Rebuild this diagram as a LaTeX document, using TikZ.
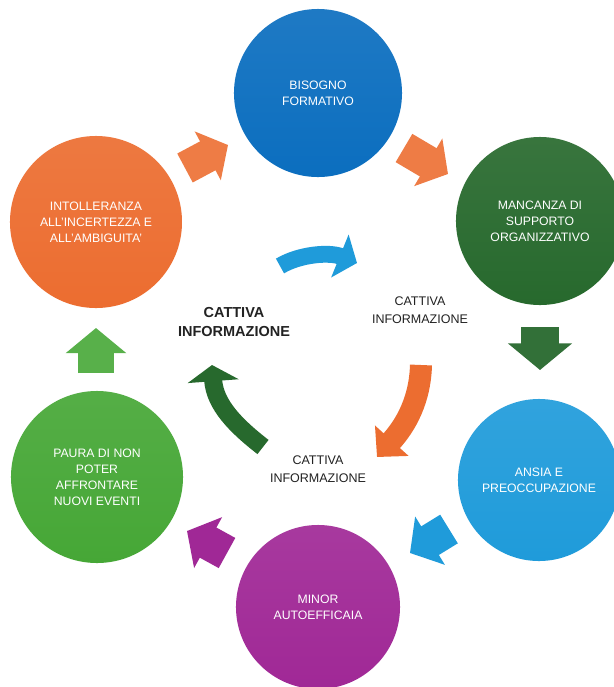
\documentclass[tikz,border=0pt]{standalone}
\usepackage{fontspec}
\setmainfont{Liberation Sans}
\usetikzlibrary{arrows.meta, calc}
\definecolor{cyblue}{HTML}{0B6EBF}
\definecolor{cydkgreen}{HTML}{27692D}
\definecolor{cyltblue}{HTML}{1F9BDA}
\definecolor{cypurple}{HTML}{A02896}
\definecolor{cygreen}{HTML}{46A736}
\definecolor{cyorange}{HTML}{EC6D30}
\definecolor{cytext}{HTML}{222222}

\begin{document}
\begin{tikzpicture}[x=0.025cm, y=-0.025cm,
    circ/.style={circle, inner sep=0pt, minimum size=4.2cm, text=white, align=center,
      font=\fontsize{8.7}{11.3}\selectfont, top color=#1!92!white, bottom color=#1},
    info/.style={align=center, text=cytext, font=\fontsize{8.9}{12.5}\selectfont},
    blockarr/.style={line width=#1, -{Triangle[width=0pt 1.65, length=0pt 0.7]}},
    bentarr/.style={line width=#1, -{Triangle[width=0pt 2.7, length=0pt 1.1]}}]
  \useasboundingbox[fill=white] (0,0) rectangle (614,687);

  % Cycle of circles
  \node[circ=cyblue] (bisogno) at (318,93) {BISOGNO\\FORMATIVO};
  \node[circ=cydkgreen] (mancanza) at (540,221) {MANCANZA DI\\SUPPORTO\\ORGANIZZATIVO};
  \node[circ=cyltblue, minimum size=4.05cm] (ansia) at (539,480) {ANSIA E\\PREOCCUPAZIONE};
  \node[circ=cypurple, minimum size=4.1cm] (minor) at (318,607) {MINOR\\AUTOEFFICAIA};
  \node[circ=cygreen, minimum size=4.3cm] (paura) at (97,477) {PAURA DI NON\\POTER\\AFFRONTARE\\NUOVI EVENTI};
  \node[circ=cyorange, minimum size=4.3cm] (intoll) at (96,222) {INTOLLERANZA\\ALL'INCERTEZZA E\\ALL'AMBIGUITA'};

  % Block arrows between circles
  \coordinate (a1s) at (185,168); \coordinate (a1e) at (228,145);
  \coordinate (a2s) at (404,148); \coordinate (a2e) at (448,174);
  \coordinate (a3s) at (540,327); \coordinate (a3e) at (540,370);
  \coordinate (a4s) at (449,529); \coordinate (a4e) at (410,553);
  \coordinate (a5s) at (227,553); \coordinate (a5e) at (187,531);
  \coordinate (a6s) at (96,373);  \coordinate (a6e) at (96,328);
  \draw[blockarr=0.82cm, cyorange!90!white] (a1s) -- (a1e);
  \draw[blockarr=0.82cm, cyorange!90!white] (a2s) -- (a2e);
  \draw[blockarr=0.95cm, cydkgreen!95!white] (a3s) -- (a3e);
  \draw[blockarr=0.84cm, cyltblue] (a4s) -- (a4e);
  \draw[blockarr=0.86cm, cypurple] (a5s) -- (a5e);
  \draw[blockarr=0.9cm, cygreen!90!white] (a6s) -- (a6e);

  % Inner loop
  \node[info, font=\bfseries\fontsize{10.3}{13.5}\selectfont] (infoC) at (234,322) {CATTIVA\\INFORMAZIONE};
  \node[info] (infoR) at (420,310) {CATTIVA\\INFORMAZIONE};
  \node[info] (infoB) at (318,469) {CATTIVA\\INFORMAZIONE};

  \coordinate (b1s) at (280,266); \coordinate (b1e) at (357,263);
  \coordinate (b2s) at (421,365); \coordinate (b2e) at (377,457);
  \coordinate (b3s) at (263,447); \coordinate (b3e) at (212,365);
  \draw[bentarr=0.42cm, cyltblue] (b1s) .. controls (300,254) and (330,252) .. (b1e);
  \draw[bentarr=0.55cm, cyorange, -{Triangle[width=0pt 2.0, length=0pt 1.0]}]
    (b2s) .. controls (420,400) and (406,425) .. (b2e);
  \draw[bentarr=0.45cm, cydkgreen, -{Triangle[width=0pt 2.8, length=0pt 0.9]}]
    (b3s) .. controls (236,426) and (215,405) .. (b3e);
\end{tikzpicture}
\end{document}
